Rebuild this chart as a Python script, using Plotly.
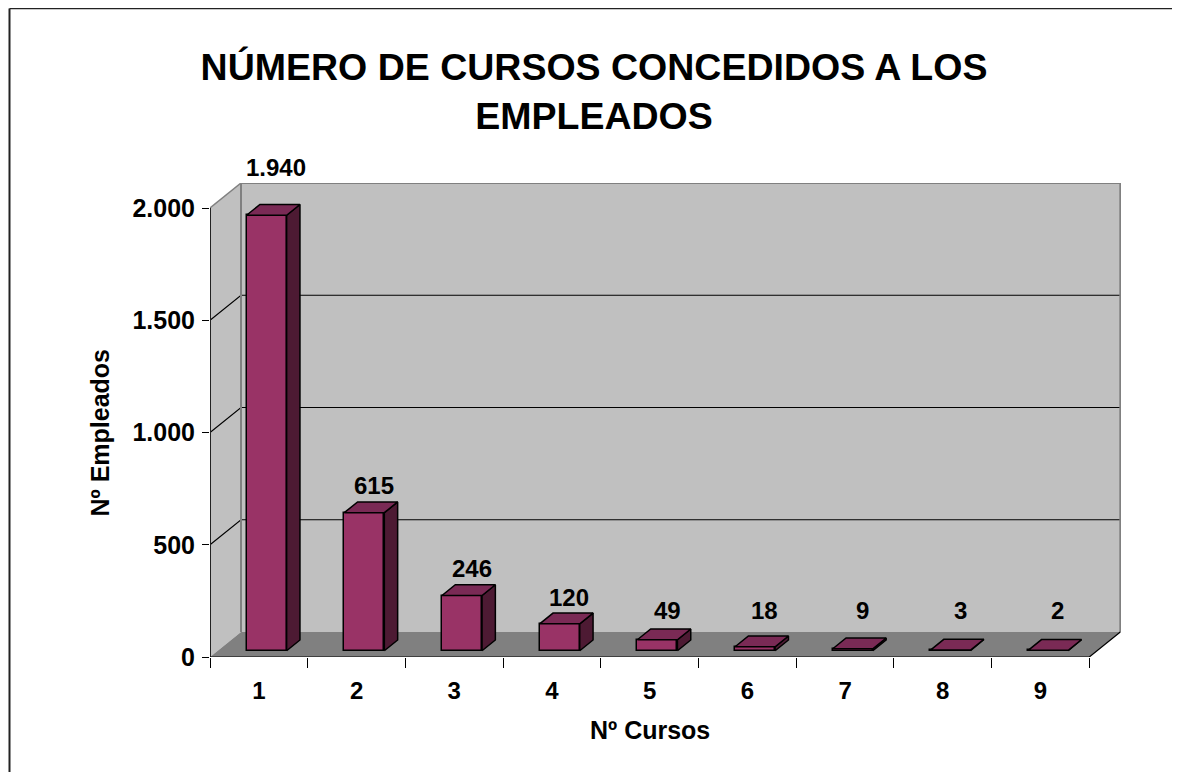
import plotly.graph_objects as go

# ---- data ----
categories = [1, 2, 3, 4, 5, 6, 7, 8, 9]
values = [1940, 615, 246, 120, 49, 18, 9, 3, 2]
y_ticks = [0, 500, 1000, 1500, 2000]
title = "NÚMERO DE CURSOS CONCEDIDOS A LOS<br>EMPLEADOS"
x_title = "Nº Cursos"
y_title = "Nº Empleados"


def fmt(v):
    return f"{v:,}".replace(",", ".")


# ---- figure / plot-area geometry (pixels) ----
FIG_W, FIG_H = 1165, 764          # leaves room for the page's 8px body margin
PLOT_L, PLOT_R, PLOT_T, PLOT_B = 202, 1113, 175, 649
PLOT_W = PLOT_R - PLOT_L
PLOT_H = PLOT_B - PLOT_T
CAT_PX = 97.7                     # pixels per category

# ---- geometry of the pseudo-3D box (data units) ----
X0 = categories[0] - 0.5
X1 = categories[-1] + 0.5
YTOP = y_ticks[-1]
PX_PER_UNIT = 449 / 2000          # vertical pixels per value unit
DX = 31 / CAT_PX                  # depth offset in category units
DY = 25 / PX_PER_UNIT             # depth offset in value units
D0, D1 = 0.25, 0.68               # bar depth (front/back) as fraction of floor depth
W = 0.205                         # bar half-width
YMAX = PLOT_H / PX_PER_UNIT
XMAX = X0 + PLOT_W / CAT_PX

FRONT = "#993366"
TOP = "#7A2A55"
SIDE = "#4D1A33"
WALL = "#C0C0C0"
FLOOR = "#808080"
EDGE = "#808080"

FONT = "Liberation Sans, Arial, sans-serif"

fig = go.Figure()

shapes = []
# left wall
shapes.append(dict(type="path", xref="x", yref="y", layer="below",
                   path=f"M{X0},0 L{X0},{YTOP} L{X0+DX},{YTOP+DY} L{X0+DX},{DY} Z",
                   fillcolor=WALL, line=dict(width=0)))
# back wall
shapes.append(dict(type="rect", xref="x", yref="y", layer="below",
                   x0=X0 + DX, x1=X1 + DX, y0=DY, y1=YTOP + DY,
                   fillcolor=WALL, line=dict(width=0)))
# floor
shapes.append(dict(type="path", xref="x", yref="y", layer="below",
                   path=f"M{X0},0 L{X1},0 L{X1+DX},{DY} L{X0+DX},{DY} Z",
                   fillcolor=FLOOR, line=dict(width=0)))
# gridlines on left and back walls
for t in y_ticks[1:-1]:
    shapes.append(dict(type="path", xref="x", yref="y", layer="below",
                       path=f"M{X0},{t} L{X0+DX},{t+DY} L{X1+DX},{t+DY}",
                       line=dict(color="black", width=1.2)))
# back wall edges
shapes.append(dict(type="path", xref="x", yref="y", layer="below",
                   path=f"M{X0+DX},{DY} L{X0+DX},{YTOP+DY} L{X1+DX},{YTOP+DY} L{X1+DX},{DY}",
                   line=dict(color=EDGE, width=2)))
# left wall top edge
shapes.append(dict(type="line", xref="x", yref="y", layer="below",
                   x0=X0, y0=YTOP, x1=X0 + DX, y1=YTOP + DY,
                   line=dict(color=EDGE, width=1.5)))
# front value axis line
shapes.append(dict(type="line", xref="x", yref="y", layer="above",
                   x0=X0, y0=0, x1=X0, y1=YTOP,
                   line=dict(color="#222222", width=2)))
# front category axis line + floor right edge
shapes.append(dict(type="path", xref="x", yref="y", layer="above",
                   path=f"M{X0},0 L{X1},0 L{X1+DX},{DY}",
                   line=dict(color="black", width=1.2)))
# outer chart border (only left and top edges are visible in the picture)
bx0 = (1.5 - PLOT_L) / PLOT_W
bx1 = (FIG_W - 1 - PLOT_L) / PLOT_W
by0 = (PLOT_B - FIG_H) / PLOT_H
by1 = (PLOT_B - 0.5) / PLOT_H
shapes.append(dict(type="line", xref="paper", yref="paper",
                   x0=bx0, y0=by0, x1=bx0, y1=by1,
                   line=dict(color="#222222", width=2)))
shapes.append(dict(type="line", xref="paper", yref="paper",
                   x0=bx0, y0=by1, x1=bx1, y1=by1,
                   line=dict(color="#222222", width=1.5)))

# bar front faces
fig.add_trace(go.Bar(
    x=[c + D0 * DX for c in categories], y=values, base=D0 * DY, width=2 * W,
    marker=dict(color=FRONT, line=dict(color="black", width=1.5)),
    hoverinfo="skip", showlegend=False))

# bar top and side faces
for c, v in zip(categories, values):
    xl, xr = c - W, c + W
    top_x = [xl + D0 * DX, xr + D0 * DX, xr + D1 * DX, xl + D1 * DX, xl + D0 * DX]
    top_y = [v + D0 * DY, v + D0 * DY, v + D1 * DY, v + D1 * DY, v + D0 * DY]
    side_x = [xr + D0 * DX, xr + D1 * DX, xr + D1 * DX, xr + D0 * DX, xr + D0 * DX]
    side_y = [D0 * DY, D1 * DY, v + D1 * DY, v + D0 * DY, D0 * DY]
    fig.add_trace(go.Scatter(x=side_x, y=side_y, mode="lines", fill="toself",
                             fillcolor=SIDE, line=dict(color="black", width=1.5),
                             hoverinfo="skip", showlegend=False))
    fig.add_trace(go.Scatter(x=top_x, y=top_y, mode="lines", fill="toself",
                             fillcolor=TOP, line=dict(color="black", width=1.5),
                             hoverinfo="skip", showlegend=False))

# data labels (annotations)
LABEL_MIN = 58
GAP_PX = 16
annotations = []
for c, v in zip(categories, values):
    y = max(v, LABEL_MIN) + D1 * DY + GAP_PX / PX_PER_UNIT
    shift = 0
    if y > YTOP + DY - 20 / PX_PER_UNIT:
        y = YTOP + DY
        shift = GAP_PX
    annotations.append(dict(text=fmt(v), xref="x", yref="y",
                            x=c + (D0 + D1) / 2 * DX + 0.03, y=y, yshift=shift,
                            xanchor="center", yanchor="middle", showarrow=False,
                            font=dict(size=24, family=FONT, color="black", weight="bold")))

annotations += [
    dict(text=x_title, xref="x", yref="paper", x=(categories[0] + categories[-1]) / 2, y=0,
         yshift=-89, showarrow=False, font=dict(size=25, family=FONT, weight="bold")),
    dict(text=y_title, xref="paper", yref="y", x=0, y=YTOP / 2, xshift=-127,
         textangle=-90, showarrow=False, font=dict(size=25, family=FONT, weight="bold")),
]

fig.update_layout(
    width=FIG_W, height=FIG_H,
    margin=dict(l=PLOT_L, r=FIG_W - PLOT_R, t=PLOT_T, b=FIG_H - PLOT_B),
    paper_bgcolor="white", plot_bgcolor="white",
    font=dict(family=FONT, color="black", weight="bold"),
    shapes=shapes,
    annotations=annotations,
    bargap=0,
    title=dict(text=title, x=586 / FIG_W, xanchor="center", y=1 - 72 / FIG_H, yanchor="top",
               font=dict(size=37.5, family=FONT, color="black", weight="bold")),
    xaxis=dict(range=[X0, XMAX],
               tickmode="array", tickvals=categories, ticktext=[str(c) for c in categories],
               ticks="", showgrid=False, zeroline=False, showline=False,
               tickfont=dict(size=24, family=FONT, weight="bold"),
               ticklabelstandoff=17,
               minor=dict(tickmode="array",
                          tickvals=[c - 0.5 for c in categories] + [categories[-1] + 0.5],
                          ticks="outside", ticklen=10, tickcolor="black", tickwidth=1),
               fixedrange=True),
    yaxis=dict(range=[0, YMAX], tickmode="array", tickvals=y_ticks,
               ticktext=[fmt(t) for t in y_ticks],
               ticks="outside", ticklen=7, tickcolor="black", tickwidth=1,
               showgrid=False, zeroline=False, showline=False,
               tickfont=dict(size=25, family=FONT, weight="bold"),
               ticklabelstandoff=2,
               fixedrange=True),
)

fig.write_html("out.html", config={"displayModeBar": False})
